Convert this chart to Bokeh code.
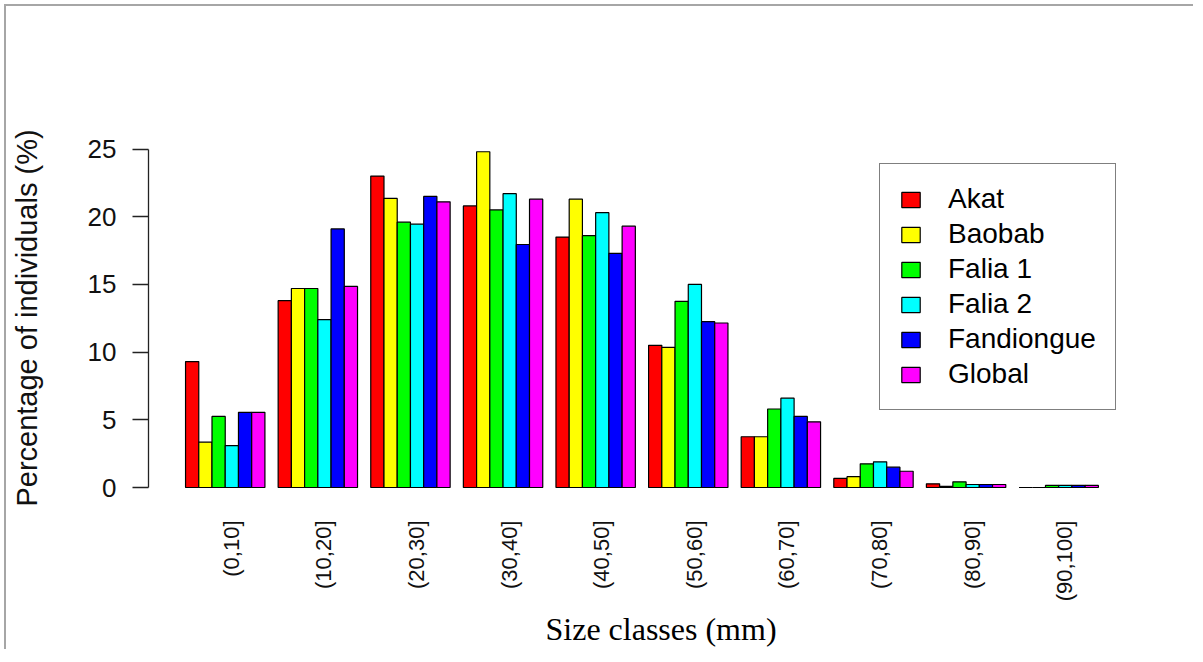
import math
from bokeh.plotting import figure
from bokeh.models import ColumnDataSource, Range1d, FixedTicker, Legend, Title
from bokeh.embed import file_html
from bokeh.resources import INLINE

# ---- data ----
categories = ["(0,10]", "(10,20]", "(20,30]", "(30,40]", "(40,50]",
              "(50,60]", "(60,70]", "(70,80]", "(80,90]", "(90,100]"]
series_names = ["Akat", "Baobab", "Falia 1", "Falia 2", "Fandiongue", "Global"]
akat = [9.3, 13.8, 23.0, 20.8, 18.5, 10.5, 3.75, 0.67, 0.27, 0.0]
baobab = [3.35, 14.7, 21.35, 24.8, 21.3, 10.35, 3.75, 0.8, 0.08, 0.0]
falia1 = [5.25, 14.7, 19.6, 20.5, 18.6, 13.75, 5.8, 1.75, 0.42, 0.15]
falia2 = [3.1, 12.4, 19.45, 21.7, 20.3, 15.0, 6.6, 1.9, 0.22, 0.15]
fandiongue = [5.55, 19.1, 21.5, 17.95, 17.3, 12.25, 5.25, 1.5, 0.22, 0.15]
global_ = [5.55, 14.85, 21.1, 21.3, 19.3, 12.15, 4.85, 1.2, 0.22, 0.15]
y_ticks = [0, 5, 10, 15, 20, 25]

series_values = [akat, baobab, falia1, falia2, fandiongue, global_]
colors = ["#FF0000", "#FFFF00", "#00FF00", "#00FFFF", "#0000FF", "#FF00FF"]

n_series = len(series_names)
group_step = n_series + 1  # one empty bar-width between groups (R barplot beside)

p = figure(width=1189, height=645, output_backend="svg", toolbar_location=None,
           x_range=Range1d(-1.80, 72.73), y_range=Range1d(-0.96, 26.0),
           min_border_left=142, min_border_top=129, min_border_right=61,
           min_border_bottom=151, background_fill_color="white",
           border_fill_color="white")
p.outline_line_color = None
p.xgrid.visible = False
p.ygrid.visible = False
p.styles = {"border-top": "2px solid #a6a6a6", "border-left": "2px solid #a6a6a6",
            "margin-left": "4px", "margin-top": "4px"}

legend_items = []
for s, (name, vals, col) in enumerate(zip(series_names, series_values, colors)):
    left = [1 + group_step * g + s for g in range(len(categories))]
    right = [l + 1 for l in left]
    src = ColumnDataSource(dict(left=left, right=right, top=vals,
                                bottom=[0] * len(vals)))
    r = p.quad(left="left", right="right", top="top", bottom="bottom", source=src,
               fill_color=col, line_color="black", line_width=1.2)
    legend_items.append((name, [r]))

legend = Legend(items=legend_items, location=(731, 90))
legend.border_line_color = "black"
legend.border_line_width = 1.5
legend.background_fill_color = "white"
legend.background_fill_alpha = 1
legend.label_text_font = "Liberation Sans"
legend.label_text_font_size = "28px"
legend.label_text_color = "black"
legend.glyph_width = 23
legend.glyph_height = 19
legend.label_height = 30
legend.spacing = 3
legend.padding = 19
legend.margin = 0
legend.label_standoff = 26
p.add_layout(legend, "center")

# y axis
ya = p.yaxis[0]
ya.ticker = FixedTicker(ticks=y_ticks)
ya.bounds = (0, 25)
ya.major_tick_out = 16
ya.major_tick_in = 0
ya.minor_tick_out = 0
ya.minor_tick_in = 0
ya.axis_line_width = 1.3
ya.major_tick_line_width = 1.3
ya.axis_line_color = "#222222"
ya.major_tick_line_color = "#222222"
ya.major_label_text_font = "Liberation Sans"
ya.major_label_text_font_size = "26px"
ya.major_label_text_color = "#111111"
ya.major_label_standoff = 16
ya.axis_label = "Percentage of individuals (%)"
ya.axis_label_text_font = "Liberation Sans"
ya.axis_label_text_font_size = "29px"
ya.axis_label_text_font_style = "normal"
ya.axis_label_text_color = "#111111"
ya.axis_label_standoff = 42

# x axis (labels sit slightly right of the group centre, as in R's las=2)
xa = p.xaxis[0]
label_shift = 0.45
centers = [1 + group_step * g + n_series / 2 + label_shift for g in range(len(categories))]
xa.ticker = FixedTicker(ticks=centers)
xa.major_label_overrides = {c: lab for c, lab in zip(centers, categories)}
xa.axis_line_color = None
xa.major_tick_line_color = None
xa.minor_tick_line_color = None
xa.major_tick_out = 0
xa.major_tick_in = 0
xa.minor_tick_out = 0
xa.minor_tick_in = 0
xa.major_label_orientation = math.pi / 2
xa.major_label_standoff = 20
xa.major_label_text_font = "Liberation Sans"
xa.major_label_text_font_size = "22px"
xa.major_label_text_color = "#111111"

p.add_layout(Title(text="Size classes (mm)", text_font="Liberation Serif",
                   text_font_size="32px", text_font_style="normal",
                   text_color="black", align="left", offset=397, standoff=8),
             "below")

open("out.html", "w").write(file_html(p, INLINE))
